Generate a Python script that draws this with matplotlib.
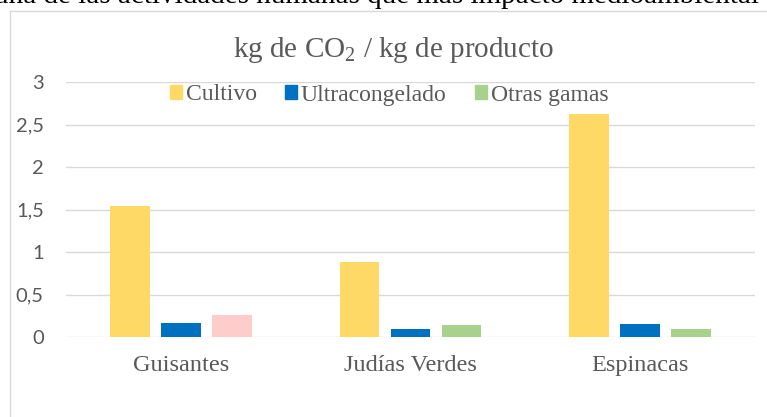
import matplotlib

matplotlib.use("Agg")

import matplotlib.pyplot as plt
import numpy as np
from matplotlib.lines import Line2D
from matplotlib.patches import Patch

plt.rcParams["mathtext.fontset"] = "custom"
plt.rcParams["mathtext.rm"] = "Liberation Serif"
plt.rcParams["mathtext.it"] = "Liberation Serif"

# data
categories = ["Guisantes", "Judías Verdes", "Espinacas"]
series_names = ["Cultivo", "Ultracongelado", "Otras gamas"]
cultivo = [1.54, 0.88, 2.62]
ultracongelado = [0.165, 0.095, 0.15]
otras_gamas = [0.26, 0.14, 0.09]
y_ticks = [0, 0.5, 1, 1.5, 2, 2.5, 3]
y_tick_labels = ["0", "0,5", "1", "1,5", "2", "2,5", "3"]

yellow = "#FFD966"
blue = "#0070C0"
green = "#A9D18E"
pink = "#FFCCCC"
grey_text = "#595959"
grey_line = "#D9D9D9"

W, H = 767, 417
fig = plt.figure(figsize=(W / 100, H / 100), dpi=100)

# chart frame (cut by the image on the right and bottom)
fig.add_artist(Line2D([10 / W, 10 / W], [0, 1 - 11 / H], color=grey_line, lw=1.0))
fig.add_artist(Line2D([10 / W, 1], [1 - 11 / H, 1 - 11 / H], color=grey_line, lw=1.0))

# cut-off line of document text above the chart
fig.text(
    -6 / W,
    1 - 3 / H,
    "una de las actividades humanas que más impacto medioambiental",
    fontsize=21,
    family="Liberation Serif",
    color="black",
    ha="left",
    va="baseline",
)

ax = fig.add_axes([66 / W, 80 / H, 689 / W, 255 / H])

x = np.arange(len(categories))
width = 0.174
step = 0.222
ax.bar(x - step, cultivo, width, color=yellow, zorder=3)
ax.bar(x, ultracongelado, width, color=blue, zorder=3)
ax.bar(x + step, otras_gamas, width, color=[pink, green, green], zorder=3)

ax.set_xlim(-0.5, 2.5)
ax.set_ylim(0, 3)
ax.set_yticks(y_ticks)
ax.set_yticklabels(y_tick_labels, family="Lato", fontsize=14.5, color=grey_text)
ax.set_xticks(x)
ax.set_xticklabels(categories, family="Liberation Serif", fontsize=17.5, color=grey_text)
ax.tick_params(axis="y", length=0, pad=16)
ax.tick_params(axis="x", length=0, pad=13)
ax.yaxis.grid(True, color=grey_line, lw=1.0, zorder=0)
for spine in ax.spines.values():
    spine.set_visible(False)

fig.text(
    394 / W,
    1 - 57 / H,
    r"kg de CO$_{\mathrm{2}}$ / kg de producto",
    fontsize=21,
    family="Liberation Serif",
    color=grey_text,
    ha="center",
    va="baseline",
)

handles = [Patch(color=c) for c in [yellow, blue, green]]
leg = ax.legend(
    handles,
    series_names,
    loc="center",
    bbox_to_anchor=(389 / W, 1 - 95 / H),
    bbox_transform=fig.transFigure,
    ncol=3,
    frameon=False,
    borderpad=0,
    handlelength=0.52,
    handleheight=0.52,
    handletextpad=0.15,
    columnspacing=1.2,
    prop={"family": "Liberation Serif", "size": 17},
)
for t in leg.get_texts():
    t.set_color(grey_text)

fig.savefig("out.png", dpi=100)
